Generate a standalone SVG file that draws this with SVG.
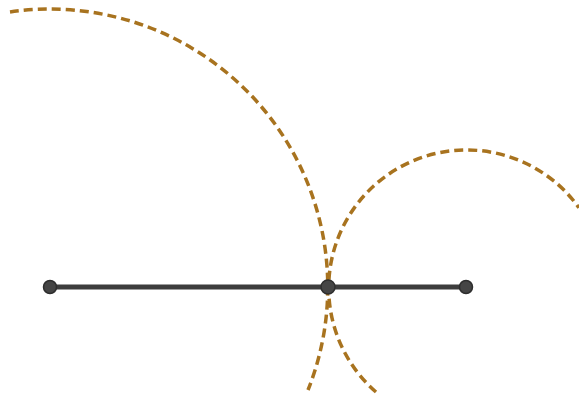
<svg xmlns="http://www.w3.org/2000/svg" width="579" height="396" viewBox="0 0 579 396">
<style>
.arc{fill:none;stroke:#A8731F;stroke-width:3.5;stroke-dasharray:9 5}
.seg{stroke:#3d3d3d;stroke-width:5;stroke-linecap:round}
.pt{fill:#454545;stroke:#2e2e2e;stroke-width:1.5}
</style>
<rect width="579" height="396" fill="#ffffff"/>
<g id="connectors">
<path class="arc" d="M 10 11.9 A 278 278 0 0 1 308 390"/>
<path class="arc" d="M 376 392 A 138 138 0 1 1 579 207.8"/>
<line class="seg" x1="50" y1="287" x2="466" y2="287"/>
</g>
<g id="A"><circle class="pt" cx="50" cy="287" r="6.5"/></g>
<g id="M"><circle class="pt" cx="328" cy="287" r="7" stroke="#1e1e1e" stroke-width="2"/></g>
<g id="B"><circle class="pt" cx="466" cy="287" r="6.5"/></g>
</svg>
